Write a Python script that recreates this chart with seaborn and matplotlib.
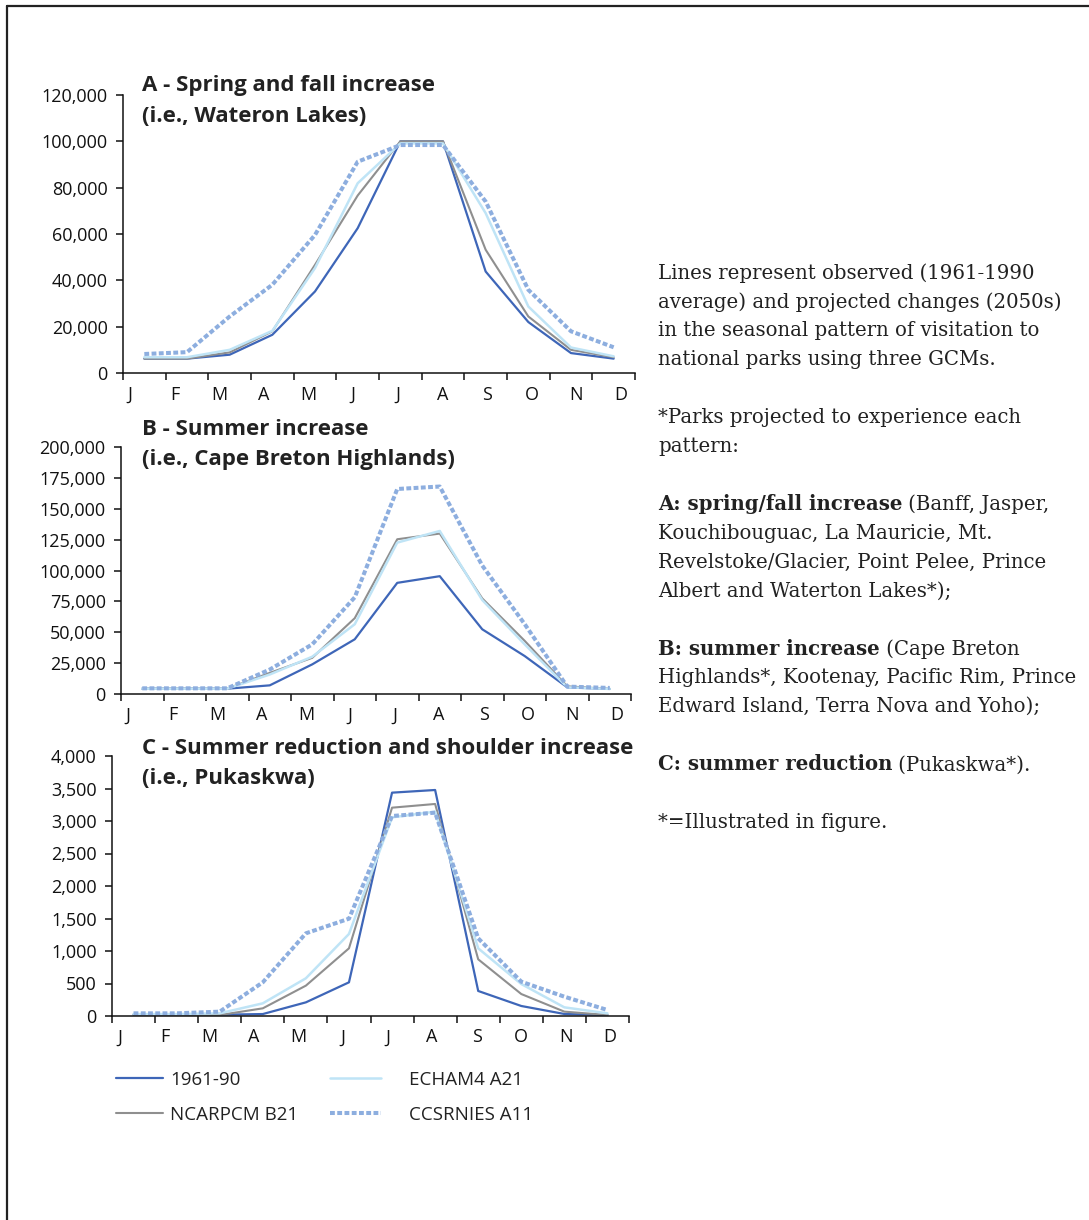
import matplotlib
matplotlib.use("Agg")
import matplotlib.pyplot as plt
from matplotlib.lines import Line2D
from matplotlib.ticker import FuncFormatter, FixedLocator
import seaborn as sns
import pandas as pd
import numpy as np

# ---------------- data ----------------
months = ["J", "F", "M", "A", "M", "J", "J", "A", "S", "O", "N", "D"]
series_names = ["1961-90", "NCARPCM B21", "ECHAM4 A21", "CCSRNIES A11"]

# Panel A - Waterton Lakes
a_1961 = [6200, 6200, 7900, 16500, 35200, 62500, 100000, 100000, 43800, 22000, 8600, 6200]
a_ncar = [6200, 6200, 8900, 18000, 46700, 76600, 100000, 100000, 53200, 24400, 10000, 6800]
a_echam = [6800, 6800, 10000, 18200, 45300, 81900, 99100, 99100, 69000, 28700, 11000, 7200]
a_ccsr = [8200, 9000, 24400, 38100, 59600, 91200, 98400, 98400, 74000, 35900, 18000, 11100]

# Panel B - Cape Breton Highlands
b_1961 = [4300, 4300, 4300, 7000, 24000, 44300, 90000, 95400, 52400, 30700, 5400, 4100]
b_ncar = [4300, 4300, 4300, 17100, 29300, 61400, 125300, 129900, 77400, 43000, 6200, 4100]
b_echam = [4300, 4300, 4300, 15800, 30200, 56500, 122600, 132000, 76100, 40200, 5400, 4100]
b_ccsr = [4600, 4600, 4600, 19800, 40200, 78300, 166000, 168000, 104000, 56500, 6000, 4900]

# Panel C - Pukaskwa
c_1961 = [20, 20, 20, 30, 210, 518, 3436, 3477, 385, 154, 31, 15]
c_ncar = [20, 20, 15, 118, 467, 1041, 3205, 3262, 872, 338, 67, 15]
c_echam = [30, 30, 41, 195, 580, 1262, 3056, 3144, 1041, 492, 133, 41]
c_ccsr = [41, 41, 67, 518, 1272, 1497, 3077, 3128, 1195, 528, 297, 92]

titles = ["A - Spring and fall increase\n(i.e., Wateron Lakes)",
          "B - Summer increase\n(i.e., Cape Breton Highlands)",
          "C - Summer reduction and shoulder increase\n(i.e., Pukaskwa)"]
y_ticks = [[0, 20000, 40000, 60000, 80000, 100000, 120000],
           [0, 25000, 50000, 75000, 100000, 125000, 150000, 175000, 200000],
           [0, 500, 1000, 1500, 2000, 2500, 3000, 3500, 4000]]

notes = [
    ("", "Lines represent observed (1961-1990"),
    ("", "average) and projected changes (2050s)"),
    ("", "in the seasonal pattern of visitation to"),
    ("", "national parks using three GCMs."),
    None,
    ("", "*Parks projected to experience each"),
    ("", "pattern:"),
    None,
    ("A: spring/fall increase", " (Banff, Jasper,"),
    ("", "Kouchibouguac, La Mauricie, Mt."),
    ("", "Revelstoke/Glacier, Point Pelee, Prince"),
    ("", "Albert and Waterton Lakes*);"),
    None,
    ("B: summer increase", " (Cape Breton"),
    ("", "Highlands*, Kootenay, Pacific Rim, Prince"),
    ("", "Edward Island, Terra Nova and Yoho);"),
    None,
    ("C: summer reduction", " (Pukaskwa*)."),
    None,
    ("", "*=Illustrated in figure."),
]

# ---------------- style ----------------
W, H = 1089, 1220
DPI = 100
sns.set_theme(style="white")
plt.rcParams["font.family"] = ["Open Sans", "DejaVu Sans"]
plt.rcParams["axes.edgecolor"] = "black"

palette = {"1961-90": "#3E66B8", "NCARPCM B21": "#8F8F8F",
           "ECHAM4 A21": "#BFE4F6", "CCSRNIES A11": "#8DAEDF"}
sizes = {"1961-90": 1.6, "NCARPCM B21": 1.5, "ECHAM4 A21": 1.8, "CCSRNIES A11": 2.9}
dashes = {"1961-90": "", "NCARPCM B21": "", "ECHAM4 A21": "", "CCSRNIES A11": (1.2, 0.6)}

fig = plt.figure(figsize=(W / DPI, H / DPI), dpi=DPI)

def px_axes(l, r, t, b):
    return fig.add_axes([l / W, 1 - b / H, (r - l) / W, (b - t) / H])

axes_px = [(123, 635, 95, 373), (121, 631, 447, 694), (112, 629, 756, 1016)]
label_pos = [(-0.33, 1.045), (-0.33, 1.045), (-0.31, 1.034)]
title_pos = [(142, 86), (142, 429), (142, 748)]
panel_data = [(a_1961, a_ncar, a_echam, a_ccsr),
              (b_1961, b_ncar, b_echam, b_ccsr),
              (c_1961, c_ncar, c_echam, c_ccsr)]

TICK_FS = 13
TITLE_FS = 16
LEG_FS = 13.5

handles = labels = None
for i, (data, box) in enumerate(zip(panel_data, axes_px)):
    ax = px_axes(*box)
    rows = []
    for name, vals in zip(series_names, data):
        for m, v in enumerate(vals):
            rows.append({"month": m, "visits": v, "series": name})
    df = pd.DataFrame(rows)
    sns.lineplot(data=df, x="month", y="visits", hue="series", style="series",
                 size="series", hue_order=series_names, style_order=series_names,
                 size_order=series_names, palette=palette, sizes=sizes,
                 dashes=dashes, ax=ax, legend=(i == 0))
    if i == 0:
        handles, labels = ax.get_legend_handles_labels()
        ax.get_legend().remove()
    ax.set_xlim(-0.5, 11.5)
    ax.set_ylim(y_ticks[i][0], y_ticks[i][-1])
    ax.set_xlabel("")
    ax.set_ylabel("")
    for s in ["top", "right"]:
        ax.spines[s].set_visible(False)
    for s in ["left", "bottom"]:
        ax.spines[s].set_linewidth(1.1)
        ax.spines[s].set_color("#111111")
    ax.set_yticks(y_ticks[i])
    ax.yaxis.set_major_formatter(FuncFormatter(lambda v, p: f"{int(v):,}"))
    ax.tick_params(axis="y", which="major", left=True, length=5, width=1.1,
                   labelsize=TICK_FS, colors="#111111", pad=6)
    ax.set_xticks(np.arange(-0.5, 12, 1.0))
    ax.set_xticklabels([])
    ax.tick_params(axis="x", which="major", bottom=True, length=5, width=1.1,
                   colors="#111111")
    start, step = label_pos[i]
    ax.xaxis.set_minor_locator(FixedLocator([start + step * k for k in range(12)]))
    ax.set_xticklabels(months, minor=True)
    ax.tick_params(axis="x", which="minor", bottom=True, length=0, labelsize=TICK_FS,
                   labelcolor="#111111", pad=9)
    ax.patch.set_alpha(0)
    tx, ty = title_pos[i]
    l1, l2 = titles[i].split("\n")
    fig.text(tx / W, 1 - ty / H, l1, fontsize=TITLE_FS, fontweight="bold",
             color="#222222", va="center", ha="left")
    fig.text(tx / W, 1 - (ty + 31) / H, l2, fontsize=TITLE_FS, fontweight="bold",
             color="#222222", va="center", ha="left")

# legends (two columns)
lh = dict(zip(labels, handles))
leg_kw = dict(loc="upper left", frameon=False, fontsize=LEG_FS, labelspacing=0.9,
              borderpad=0, borderaxespad=0)
leg1 = fig.legend([lh["1961-90"], lh["NCARPCM B21"]], ["1961-90", "NCARPCM B21"],
                  bbox_to_anchor=(116 / W, 1 - 1071 / H), handlelength=2.5,
                  handletextpad=0.4, **leg_kw)
leg2 = fig.legend([lh["ECHAM4 A21"], lh["CCSRNIES A11"]], ["ECHAM4 A21", "CCSRNIES A11"],
                  bbox_to_anchor=(330 / W, 1 - 1071 / H), handlelength=2.7,
                  handletextpad=1.5, **leg_kw)
for leg in (leg1, leg2):
    for t in leg.get_texts():
        t.set_color("#222222")

# notes on the right
y0, dy = 273, 28.9
serif = ["DejaVu Serif"]
NOTE_FS = 14.2
for k, item in enumerate(notes):
    if item is None:
        continue
    bold, reg = item
    y = 1 - (y0 + dy * k) / H
    if bold:
        tb = fig.text(658 / W, y, bold, fontsize=NOTE_FS, family=serif, fontweight="bold",
                      color="#222222", va="center", ha="left")
        fig.canvas.draw()
        plt.annotate(reg, xy=(1, 0), xycoords=tb, fontsize=NOTE_FS, family=serif,
                     color="#222222", va="bottom", ha="left", annotation_clip=False)
    else:
        fig.text(658 / W, y, reg, fontsize=NOTE_FS, family=serif, color="#222222",
                 va="center", ha="left")

# frame (top and left border)
fig.add_artist(Line2D([7 / W, 7 / W], [0, 1 - 6 / H], color="#222222", lw=1.6,
                      transform=fig.transFigure))
fig.add_artist(Line2D([7 / W, 1], [1 - 6 / H, 1 - 6 / H], color="#222222", lw=1.6,
                      transform=fig.transFigure))

fig.savefig("out.png", dpi=DPI)
